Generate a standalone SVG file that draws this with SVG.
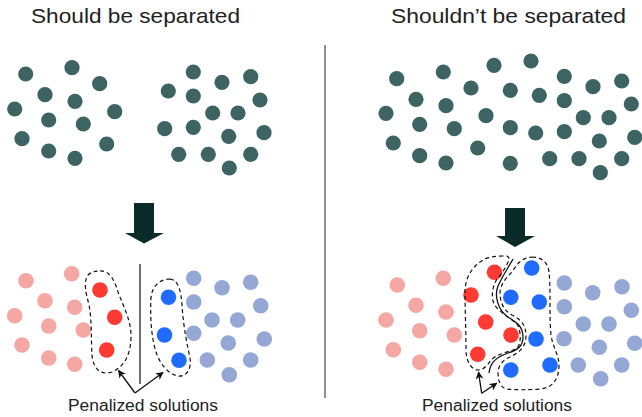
<svg xmlns="http://www.w3.org/2000/svg" width="642" height="417" viewBox="0 0 642 417">
<style>
.t{font-family:"Liberation Sans",Arial,sans-serif;fill:#222;}
.d{fill:#3d6463;}
.p{fill:#f5a7a4;}
.r{fill:#ff3a33;}
.b{fill:#1f6bff;}
.lb{fill:#95a7d5;}
.blob{fill:none;stroke:#111;stroke-width:1.2;stroke-dasharray:4 3;}
.ar{fill:none;stroke:#111;stroke-width:1.3;marker-end:url(#ah);}
.big{fill:#0b2b28;}
</style>
<defs>
<marker id="ah" viewBox="0 0 10 10" refX="9" refY="5" markerWidth="8" markerHeight="8" markerUnits="userSpaceOnUse" orient="auto">
<path d="M0,0 L10,5 L0,10 L3,5 Z" fill="#111"/>
</marker>
</defs>
<rect width="642" height="417" fill="#fff"/>
<text class="t" x="31" y="23" font-size="21" textLength="209" lengthAdjust="spacingAndGlyphs">Should be separated</text>
<text class="t" x="391" y="23" font-size="21" textLength="235" lengthAdjust="spacingAndGlyphs">Shouldn’t be separated</text>
<line x1="325" y1="45" x2="325" y2="398" stroke="#222" stroke-width="1"/>
<g id="left-top" class="d">
<circle cx="25.7" cy="74" r="7.6"/><circle cx="72" cy="67.7" r="7.6"/><circle cx="99.7" cy="83.7" r="7.6"/><circle cx="45" cy="94.7" r="7.6"/><circle cx="75" cy="101.3" r="7.6"/><circle cx="14.7" cy="109" r="7.6"/><circle cx="114.7" cy="111.7" r="7.6"/><circle cx="48.7" cy="120" r="7.6"/><circle cx="83.3" cy="124" r="7.6"/><circle cx="22" cy="138.7" r="7.6"/><circle cx="106.7" cy="144" r="7.6"/><circle cx="48.7" cy="151" r="7.6"/><circle cx="75" cy="158.3" r="7.6"/>
<circle cx="193.3" cy="72" r="7.6"/><circle cx="168.3" cy="91" r="7.6"/><circle cx="222" cy="82.3" r="7.6"/><circle cx="250.7" cy="76.7" r="7.6"/><circle cx="193.3" cy="96" r="7.6"/><circle cx="260" cy="100" r="7.6"/><circle cx="212.7" cy="113" r="7.6"/><circle cx="238" cy="113" r="7.6"/><circle cx="164.7" cy="128.7" r="7.6"/><circle cx="193.3" cy="127.3" r="7.6"/><circle cx="228.7" cy="136.3" r="7.6"/><circle cx="264" cy="132.7" r="7.6"/><circle cx="178.7" cy="154.3" r="7.6"/><circle cx="208.3" cy="154.3" r="7.6"/><circle cx="250.7" cy="154.3" r="7.6"/><circle cx="229.3" cy="168" r="7.6"/>
</g>
<g id="right-top" class="d">
<circle cx="396.7" cy="78.7" r="7.6"/><circle cx="443.3" cy="72" r="7.6"/><circle cx="494" cy="65.3" r="7.6"/><circle cx="471" cy="88" r="7.6"/><circle cx="416" cy="99.3" r="7.6"/><circle cx="446" cy="105.7" r="7.6"/><circle cx="386" cy="113.3" r="7.6"/><circle cx="486" cy="115.7" r="7.6"/><circle cx="419.7" cy="124.3" r="7.6"/><circle cx="454.3" cy="128.7" r="7.6"/><circle cx="393.3" cy="143" r="7.6"/><circle cx="477.7" cy="148" r="7.6"/><circle cx="419.7" cy="155.7" r="7.6"/><circle cx="446" cy="163" r="7.6"/>
<circle cx="531" cy="61" r="7.6"/><circle cx="564.3" cy="76.3" r="7.6"/><circle cx="510.3" cy="90.3" r="7.6"/><circle cx="539.3" cy="95.3" r="7.6"/><circle cx="564.3" cy="100.7" r="7.6"/><circle cx="593" cy="86.7" r="7.6"/><circle cx="621.7" cy="81" r="7.6"/><circle cx="631.3" cy="104" r="7.6"/><circle cx="583.3" cy="117.7" r="7.6"/><circle cx="609" cy="117.7" r="7.6"/><circle cx="510.3" cy="127.7" r="7.6"/><circle cx="535.7" cy="133" r="7.6"/><circle cx="564.3" cy="131.7" r="7.6"/><circle cx="599.3" cy="141" r="7.6"/><circle cx="634.7" cy="137.3" r="7.6"/><circle cx="510.3" cy="163.3" r="7.6"/><circle cx="549.7" cy="158.7" r="7.6"/><circle cx="579" cy="158.7" r="7.6"/><circle cx="621.7" cy="158.7" r="7.6"/><circle cx="600.3" cy="172.7" r="7.6"/>
</g>
<g id="arrow-left"><path class="big" d="M134,203 H154 V233 H164 L144,243.5 L125,233 H134 Z"/></g>
<g id="arrow-right"><path class="big" d="M505,208 H525 V236 H535 L515,247 L496,236 H505 Z"/></g>
<g id="left-bottom">
<g class="p"><circle cx="26" cy="280.7" r="7.8"/><circle cx="71.7" cy="273.7" r="7.8"/><circle cx="45" cy="300.7" r="7.8"/><circle cx="74.7" cy="307.3" r="7.8"/><circle cx="14.7" cy="315.7" r="7.8"/><circle cx="48.7" cy="326" r="7.8"/><circle cx="83.3" cy="330" r="7.8"/><circle cx="22" cy="345" r="7.8"/><circle cx="48.7" cy="358" r="7.8"/><circle cx="74.7" cy="364.3" r="7.8"/></g>
<g class="r"><circle cx="100" cy="290" r="7.8"/><circle cx="114.7" cy="317.3" r="7.8"/><circle cx="106.7" cy="350" r="7.8"/></g>
<g class="b"><circle cx="168.5" cy="297.2" r="7.8"/><circle cx="164.5" cy="335" r="7.8"/><circle cx="179" cy="360.2" r="7.8"/></g>
<g class="lb"><circle cx="193.7" cy="278.3" r="7.8"/><circle cx="222" cy="287.7" r="7.8"/><circle cx="250.7" cy="282.3" r="7.8"/><circle cx="193.7" cy="302" r="7.8"/><circle cx="260.7" cy="305.7" r="7.8"/><circle cx="212" cy="320" r="7.8"/><circle cx="237.7" cy="320" r="7.8"/><circle cx="193.7" cy="333.3" r="7.8"/><circle cx="228.3" cy="343" r="7.8"/><circle cx="264.3" cy="339" r="7.8"/><circle cx="207.3" cy="360" r="7.8"/><circle cx="250.7" cy="360" r="7.8"/><circle cx="229.3" cy="374.7" r="7.8"/></g>
<line x1="140" y1="264" x2="140" y2="384" stroke="#111" stroke-width="1.2"/>
<path class="blob" d="M100,271 C110,270 115,282 118,292 C124,308 131,320 131,336 C131,352 126,366 112,372 C100,376 93,368 92,355 C91,340 92,320 89,305 C86,293 83,283 88,275 C91,272 95,271 100,271 Z"/>
<path class="blob" d="M170,279 C178,280 181,290 182,305 C183,322 186,340 190,358 C192,372 184,377 178,376 C168,374 160,364 156,352 C151,336 150,315 151,298 C152,286 160,279 170,279 Z"/>
</g>
<g id="right-bottom">
<g class="p"><circle cx="397.3" cy="285" r="7.8"/><circle cx="443.3" cy="278.3" r="7.8"/><circle cx="416" cy="305.3" r="7.8"/><circle cx="446" cy="312" r="7.8"/><circle cx="386" cy="320" r="7.8"/><circle cx="419.7" cy="330.7" r="7.8"/><circle cx="454.3" cy="335" r="7.8"/><circle cx="393.3" cy="349.7" r="7.8"/><circle cx="419.7" cy="362.3" r="7.8"/><circle cx="446" cy="369.3" r="7.8"/></g>
<g class="r"><circle cx="494.5" cy="272.3" r="7.8"/><circle cx="471" cy="295" r="7.8"/><circle cx="485.7" cy="322" r="7.8"/><circle cx="511" cy="335" r="7.8"/><circle cx="477.7" cy="354.3" r="7.8"/></g>
<g class="b"><circle cx="531.7" cy="268" r="7.8"/><circle cx="510.8" cy="297.3" r="7.8"/><circle cx="539.3" cy="302" r="7.8"/><circle cx="536" cy="339" r="7.8"/><circle cx="510.8" cy="370" r="7.8"/><circle cx="550" cy="365" r="7.8"/></g>
<g class="lb"><circle cx="564.3" cy="283" r="7.8"/><circle cx="592.7" cy="292.7" r="7.8"/><circle cx="622" cy="286.7" r="7.8"/><circle cx="564.3" cy="306.7" r="7.8"/><circle cx="631.3" cy="310.3" r="7.8"/><circle cx="583.3" cy="324" r="7.8"/><circle cx="609" cy="324" r="7.8"/><circle cx="564" cy="338.7" r="7.8"/><circle cx="599.3" cy="347.3" r="7.8"/><circle cx="634.7" cy="343.3" r="7.8"/><circle cx="578.3" cy="365" r="7.8"/><circle cx="621.7" cy="365" r="7.8"/><circle cx="600.7" cy="378.7" r="7.8"/></g>
<path d="M513,259 C508,268 502,277 498,286 C494,296 498,310 508,317 C516,322 523,326 523,337 C523,346 518,350 508,353 C497,357 490,362 489,373" fill="none" stroke="#111" stroke-width="1.3"/>
<path class="blob" d="M503,256 C496,256 488,257 483,260 C470,268 465,280 465,292 C465,310 466,330 466,350 C466,362 472,370 478,370 C483,370 487,366 491,360 C497,354 508,352 516,349 C522,345 521,330 517,324 C510,318 500,313 494,304 C491,297 492,285 498,278 C503,272 508,264 509,259 C509,256 506,255 503,256 Z"/>
<path class="blob" d="M532,257 C541,257 548,262 549,272 C551,290 549,315 551,335 C553,348 559,355 559,365 C559,380 552,388 540,389 C528,390 515,390 507,389 C500,388 498,380 498,372 C499,363 505,359 512,356 C520,352 526,346 526,336 C526,326 522,320 512,315 C503,310 500,302 500,292 C501,283 507,277 512,272 C516,266 520,258 532,257 Z"/>
</g>
<g id="connectors">
<path class="ar" d="M135,393 L118.5,370.5"/>
<path class="ar" d="M135,393 L163,372.5"/>
<path class="ar" d="M481.7,393.3 L478.5,372"/>
<path class="ar" d="M481.7,393.3 L496.7,383.3"/>
</g>
<text class="t" x="68" y="411" font-size="16" textLength="150" lengthAdjust="spacingAndGlyphs">Penalized solutions</text>
<text class="t" x="422" y="411" font-size="16" textLength="150" lengthAdjust="spacingAndGlyphs">Penalized solutions</text>
</svg>
